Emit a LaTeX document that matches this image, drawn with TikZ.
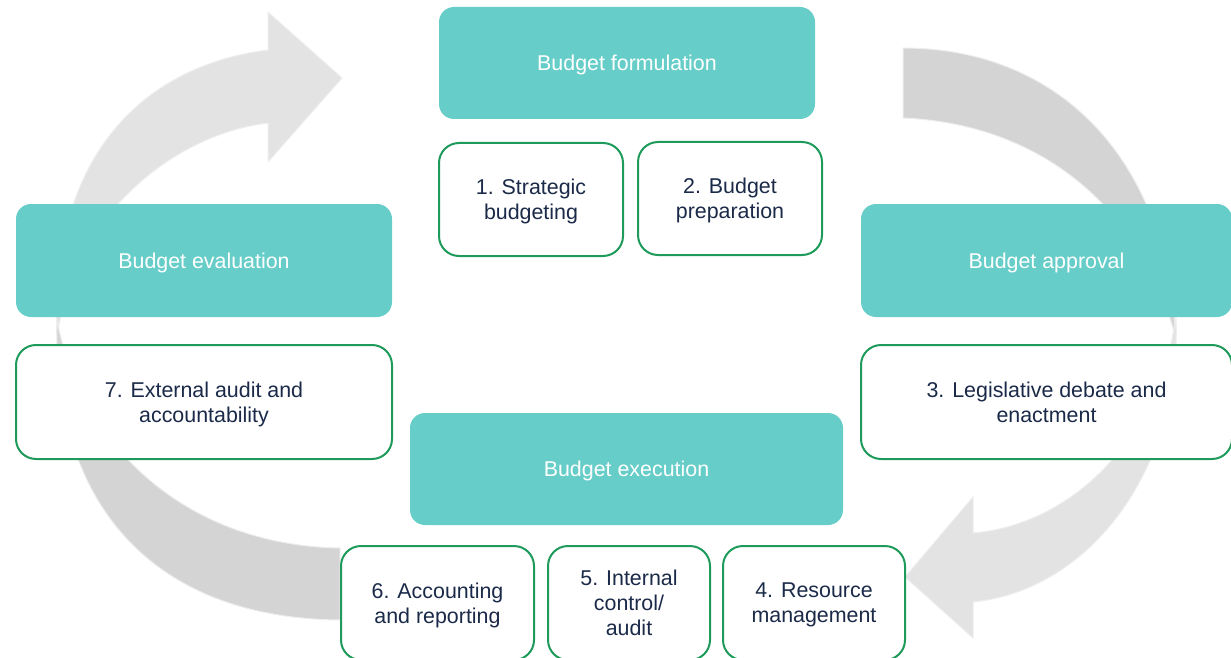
\documentclass[tikz,border=0pt]{standalone}
\usepackage{fontspec}
\setmainfont{Liberation Sans}
\definecolor{phase-fill}{RGB}{102,205,200}
\definecolor{task-line}{RGB}{30,155,90}
\definecolor{task-text}{RGB}{26,42,72}
\definecolor{ring-dark}{RGB}{212,212,212}
\definecolor{ring-light}{RGB}{227,227,227}
\definecolor{ring-edge}{RGB}{238,238,238}

\begin{document}
\begin{tikzpicture}[x=1pt, y=-1pt,
band-dark/.style = {fill=ring-dark, draw=ring-edge, line width=1pt},
band-light/.style = {fill=ring-light, draw=ring-edge, line width=1pt},
phase/.style = {fill=phase-fill, rounded corners=15pt, inner sep=0pt,
    text depth=0pt, text=white, font=\fontsize{21.4}{25}\selectfont},
task/.style = {draw=task-line, line width=2pt, fill=white,
    rounded corners=20pt, inner sep=0pt, align=center, text depth=0pt,
    text=task-text, font=\fontsize{21.4}{25}\selectfont}
]
\useasboundingbox (0,0) rectangle (1231,658);

% cycle ring behind the boxes
\draw[band-light] (57,340) .. controls (48,160) and (140,66) .. (268,50)
    -- (268,12) -- (342,78) -- (268,162) -- (268,123)
    .. controls (170,135) and (70,220) .. cycle;
\draw[band-dark] (903,48) .. controls (1060,48) and (1168,160) .. (1176,340)
    .. controls (1150,230) and (1060,125) .. (903,118) -- cycle;
\draw[band-light] (1176,315) .. controls (1182,470) and (1090,590) .. (973,602)
    -- (973,638) -- (905,577) -- (973,497) -- (973,533)
    .. controls (1070,525) and (1160,440) .. cycle;
\draw[band-dark] (340,548) .. controls (180,545) and (80,440) .. (57,320)
    .. controls (52,490) and (140,618) .. (340,620) -- cycle;

% phases
\node[phase, minimum width=376pt, minimum height=112pt] (formulation) at (627,63) {Budget formulation};
\node[phase, minimum width=376pt, minimum height=113pt] (evaluation) at (204,260.5) {Budget evaluation};
\node[phase, minimum width=371pt, minimum height=113pt] (approval) at (1046.5,260.5) {Budget approval};
\node[phase, minimum width=433pt, minimum height=112pt] (execution) at (626.5,469) {Budget execution};

% tasks
\node[task, minimum width=184pt, minimum height=113pt] (strategic) at (531,199.5) {1. Strategic\\budgeting};
\node[task, minimum width=184pt, minimum height=113pt] (preparation) at (730,198.5) {2. Budget\\preparation};
\node[task, minimum width=371pt, minimum height=114pt] (debate) at (1046.5,402) {3. Legislative debate and\\enactment};
\node[task, minimum width=182pt, minimum height=114pt] (resources) at (814,603) {4. Resource\\management};
\node[task, minimum width=162pt, minimum height=114pt] (control) at (629,603) {5. Internal\\control/\\audit};
\node[task, minimum width=193pt, minimum height=114pt] (accounting) at (437.5,603) {6. Accounting\\and reporting};
\node[task, minimum width=376pt, minimum height=114pt] (audit) at (204,402) {7. External audit and\\accountability};
\end{tikzpicture}
\end{document}
